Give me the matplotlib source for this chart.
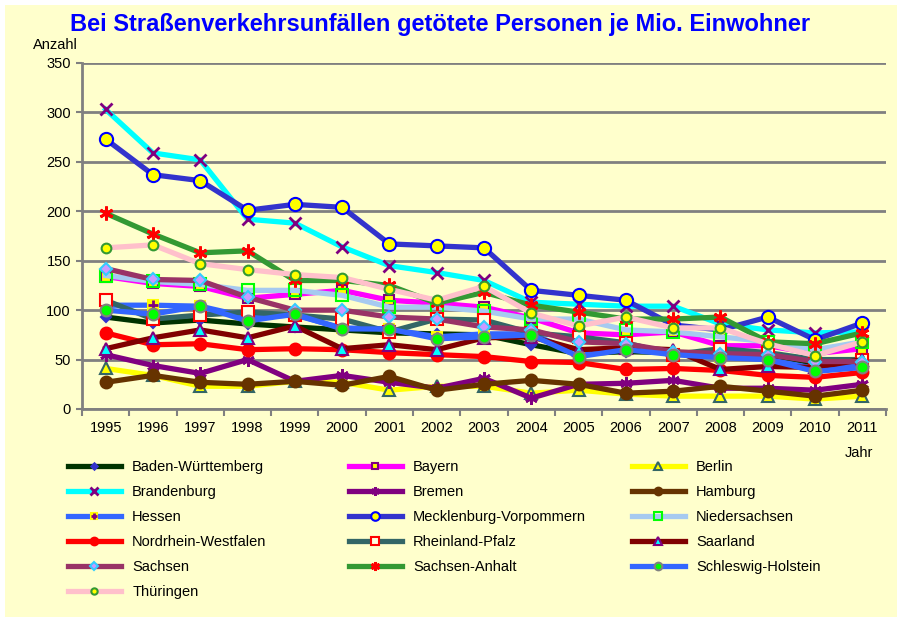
import matplotlib.pyplot as plt
from matplotlib.patches import Rectangle
from matplotlib.legend_handler import HandlerTuple

plt.rcParams['font.family'] = ['Liberation Sans', 'DejaVu Sans']

jahre = [str(j) for j in range(1995, 2012)]

baden_wuerttemberg = [93, 87, 90, 86, 83, 80, 77, 76, 75, 65, 56, 58, 57, 56, 55, 46, 48]
bayern = [134, 127, 124, 112, 116, 120, 110, 107, 103, 92, 77, 75, 78, 64, 64, 56, 61]
berlin = [41, 34, 23, 23, 28, 27, 19, 23, 23, 16, 19, 15, 13, 13, 13, 10, 13]
brandenburg = [303, 259, 252, 192, 188, 164, 145, 138, 130, 108, 106, 104, 104, 86, 80, 77, 78]
bremen = [55, 44, 36, 50, 28, 34, 27, 21, 31, 11, 25, 26, 29, 21, 21, 19, 25]
hamburg = [27, 34, 27, 25, 28, 24, 33, 19, 25, 29, 25, 16, 18, 23, 18, 13, 19]
hessen = [105, 105, 104, 93, 95, 82, 81, 73, 76, 76, 56, 63, 56, 53, 50, 41, 44]
mecklenburg_vorpommern = [273, 237, 231, 201, 207, 204, 167, 165, 163, 120, 115, 110, 85, 80, 93, 70, 87]
niedersachsen = [135, 129, 126, 120, 120, 115, 103, 103, 99, 91, 91, 80, 78, 73, 68, 60, 68]
nordrhein_westfalen = [77, 65, 66, 60, 61, 60, 57, 55, 53, 48, 47, 40, 41, 39, 34, 32, 37]
rheinland_pfalz = [110, 91, 95, 98, 95, 91, 78, 91, 90, 77, 73, 67, 55, 61, 57, 50, 50]
saarland = [61, 72, 80, 72, 84, 61, 65, 60, 72, 73, 60, 62, 60, 40, 43, 42, 50]
sachsen = [142, 131, 130, 113, 100, 100, 93, 91, 83, 80, 68, 66, 58, 56, 55, 48, 48]
sachsen_anhalt = [198, 177, 158, 160, 130, 130, 125, 107, 118, 105, 98, 91, 91, 93, 68, 66, 77]
schleswig_holstein = [100, 96, 104, 89, 96, 81, 81, 71, 73, 75, 53, 60, 55, 52, 50, 38, 42]
thueringen = [163, 166, 147, 141, 136, 133, 121, 110, 124, 97, 84, 93, 82, 82, 66, 54, 68]

asterisk = (6, 2, 0)
# name, values, line colour, marker, face, edge, size
laender = [
    ('Baden-Württemberg', baden_wuerttemberg, '#003300', 'D', '#3333CC', '#3333CC', 5),
    ('Bayern', bayern, '#FF00FF', 's', '#FFFF00', '#800080', 7.5),
    ('Berlin', berlin, '#FFFF00', '^', '#FFFF00', '#336666', 8),
    ('Brandenburg', brandenburg, '#00FFFF', 'x', '#800080', '#800080', 9),
    ('Bremen', bremen, '#800080', asterisk, '#800080', '#800080', 9),
    ('Hamburg', hamburg, '#663300', 'o', '#663300', '#663300', 8.5),
    ('Hessen', hessen, '#3366FF', 's', '#FFFF00', '#FFFF00', 7),
    ('Mecklenburg-Vorpommern', mecklenburg_vorpommern, '#3333CC', 'o', '#FFFF00', '#0000FF', 9.5),
    ('Niedersachsen', niedersachsen, '#A6CAF0', 's', 'none', '#00FF00', 8),
    ('Nordrhein-Westfalen', nordrhein_westfalen, '#FF0000', 'o', '#FF0000', '#FF0000', 8.5),
    ('Rheinland-Pfalz', rheinland_pfalz, '#336666', 's', '#FFFFE0', '#FF0000', 8),
    ('Saarland', saarland, '#800000', '^', '#00FFFF', '#800080', 8),
    ('Sachsen', sachsen, '#993366', 'D', '#CC99FF', '#33CCFF', 6),
    ('Sachsen-Anhalt', sachsen_anhalt, '#339933', asterisk, '#FF0000', '#FF0000', 10),
    ('Schleswig-Holstein', schleswig_holstein, '#3366FF', 'o', '#00FF00', '#808080', 8.5),
    ('Thüringen', thueringen, '#FFC0CB', 'o', '#FFFF00', '#339933', 7),
]

fig = plt.figure(figsize=(8.97, 6.17), dpi=100, facecolor='white')
fig.patches.append(Rectangle((5 / 897, 0), 1, 1 - 5 / 617, transform=fig.transFigure,
                             facecolor='#FFFFCC', edgecolor='none', zorder=-10))

ax = fig.add_axes([82 / 897, 1 - 409 / 617, (886 - 82) / 897, (409 - 63) / 617])
ax.set_facecolor('#FFFFCC')
x = range(len(jahre))

handles = []
for name, werte, lc, mk, fc, ec, ms in laender:
    mew = 2 if mk in ('x', asterisk) else 1.5
    line, = ax.plot(x, werte, color=lc, lw=3.8, marker=mk, mfc=fc, mec=ec,
                    ms=ms, mew=mew, solid_joinstyle='round')
    h = line
    if name == 'Hessen':
        plus, = ax.plot(x, werte, ls='none', marker='+', ms=7, mew=2, color='#800080')
        h = (line, plus)
    handles.append(h)

ax.set_xlim(-0.5, len(jahre) - 0.5)
ax.set_ylim(0, 350)
ax.set_yticks(range(0, 351, 50))
ax.set_xticks(list(x))
ax.set_xticklabels(jahre)
ax.set_xticks([i - 0.5 for i in range(len(jahre) + 1)], minor=True)
ax.tick_params(axis='x', which='major', length=0, pad=9, labelsize=10.5)
ax.tick_params(axis='x', which='minor', length=5, width=1.5, color='#808080')
ax.tick_params(axis='y', length=4, width=1.5, color='#808080', pad=4, labelsize=10.5)
ax.grid(axis='y', color='#808080', lw=2)
ax.set_axisbelow(True)
for s in ('top', 'right'):
    ax.spines[s].set_visible(False)
for s in ('left', 'bottom'):
    ax.spines[s].set_color('#808080')
    ax.spines[s].set_linewidth(2)

fig.text(440 / 897, 1 - 24 / 617, 'Bei Straßenverkehrsunfällen getötete Personen je Mio. Einwohner',
         ha='center', va='center', fontsize=17, fontweight='bold', color='#0000FF')
fig.text(33 / 897, 1 - 45 / 617, 'Anzahl', ha='left', va='center', fontsize=10.5)
fig.text(845 / 897, 1 - 453 / 617, 'Jahr', ha='left', va='center', fontsize=10.5)

# three legend columns, filled row by row
names = [l[0] for l in laender]
for col, x0 in enumerate([68, 349, 632]):
    idx = list(range(col, len(names), 3))
    fig.legend([handles[i] for i in idx], [names[i] for i in idx],
               loc='upper left', bbox_to_anchor=(x0 / 897, 1 - 460 / 617),
               frameon=False, fontsize=10.5, handlelength=3.6, labelspacing=0.75,
               handletextpad=0.8, borderaxespad=0, borderpad=0, markerscale=0.65,
               handler_map={tuple: HandlerTuple(ndivide=1, pad=0)})

fig.savefig('out.png', dpi=100, facecolor=fig.get_facecolor())
